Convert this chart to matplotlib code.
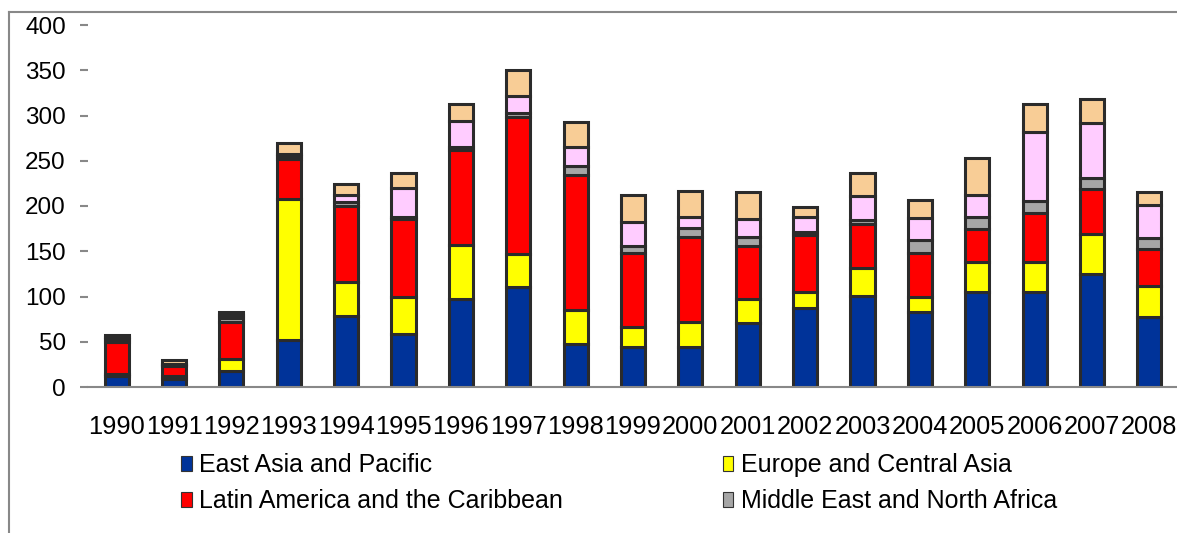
import matplotlib
matplotlib.use("Agg")
import matplotlib.pyplot as plt
from matplotlib.lines import Line2D
from matplotlib.patches import Patch
import numpy as np

plt.rcParams['font.family'] = ['Liberation Sans', 'DejaVu Sans']

years = [str(y) for y in range(1990, 2009)]

regions = ['East Asia and Pacific', 'Europe and Central Asia',
           'Latin America and the Caribbean', 'Middle East and North Africa',
           'South Asia', 'Sub-Saharan Africa']
colors = ['#003399', '#ffff00', '#ff0000', '#a6a6a6', '#ffccff', '#f8cd96']

east_asia = [12, 9, 18, 52, 79, 59, 97, 111, 47, 44, 44, 71, 87, 101, 83, 105, 105, 125, 77]
europe = [2, 3, 13, 156, 37, 41, 60, 36, 38, 22, 28, 26, 18, 30, 17, 33, 33, 44, 35]
latin = [36, 11, 41, 44, 84, 86, 105, 151, 149, 82, 94, 59, 63, 49, 48, 37, 54, 50, 41]
mena = [3, 1, 4, 3, 4, 2, 3, 5, 10, 8, 10, 10, 3, 5, 14, 13, 13, 12, 12]
south_asia = [2, 1, 4, 3, 8, 32, 29, 18, 21, 26, 12, 20, 17, 26, 25, 24, 77, 61, 36]
africa = [3, 5, 3, 12, 12, 17, 19, 29, 28, 30, 29, 29, 11, 26, 20, 41, 31, 26, 14]

series = [east_asia, europe, latin, mena, south_asia, africa]

fig = plt.figure(figsize=(11.77, 5.33), dpi=100)
ax = fig.add_axes([88 / 1177, 1 - 387 / 533, 1090 / 1177, 362 / 533])

x = np.arange(len(years))
bottom = np.zeros(len(years))
for vals, col, name in zip(series, colors, regions):
    ax.bar(x, vals, 0.42, bottom=bottom, color=col, edgecolor='#2b2b2b',
           linewidth=2.2, label=name)
    bottom += np.array(vals)

ax.set_xlim(-0.5, len(years) - 0.5)
ax.set_ylim(0, 400)
ax.set_yticks(range(0, 401, 50))
ax.set_xticks(x)
ax.set_xticklabels(years)

for s in ['top', 'right', 'left']:
    ax.spines[s].set_visible(False)
ax.spines['bottom'].set_color('#888888')
ax.spines['bottom'].set_linewidth(1.5)
ax.tick_params(axis='y', length=6, width=1.5, color='#888888', pad=10, labelsize=17.5)
ax.tick_params(axis='x', length=0, pad=20, labelsize=18.3)

# legend only shows first four regions (rest are cut off in the original)
order = [0, 2, 1, 3]
h = [Patch(facecolor=colors[i], edgecolor='#333333', linewidth=0.8) for i in order]
lab = [regions[i] for i in order]
fig.legend(h, lab, ncol=2, loc='upper left', bbox_to_anchor=(181 / 1177, 1 - 453 / 533),
           frameon=False, fontsize=18, handlelength=0.42, handleheight=0.55,
           handletextpad=0.3, columnspacing=6.4, labelspacing=0.5,
           borderpad=0, borderaxespad=0)

# outer chart border (left and top edges only visible)
bx = 9 / 1177
by = 1 - 12 / 533
fig.add_artist(Line2D([bx, bx], [0, by], transform=fig.transFigure, color='#888888', lw=1.5))
fig.add_artist(Line2D([bx, 1.0], [by, by], transform=fig.transFigure, color='#888888', lw=1.5))

fig.savefig('out.png', dpi=100)
